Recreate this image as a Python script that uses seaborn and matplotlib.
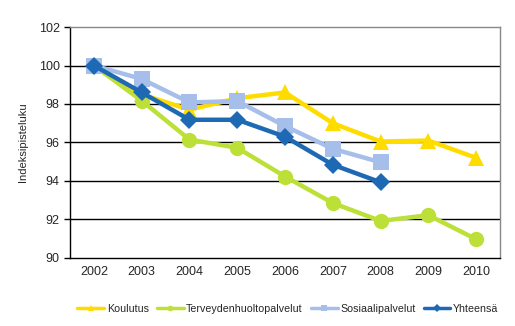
import numpy as np
import pandas as pd
import matplotlib
matplotlib.use("Agg")
import matplotlib.pyplot as plt
import seaborn as sns
from matplotlib.lines import Line2D

years = ["2002", "2003", "2004", "2005", "2006", "2007", "2008", "2009", "2010"]
koulutus = [100.0, 98.5, 97.7, 98.3, 98.6, 97.0, 96.05, 96.1, 95.2]
terveys = [100.0, 98.17, 96.15, 95.72, 94.23, 92.85, 91.92, 92.22, 90.97]
sosiaali = [100.0, 99.3, 98.08, 98.15, 96.85, 95.67, 94.97]
yhteensa = [100.0, 98.6, 97.18, 97.18, 96.3, 94.84, 93.93]

names = ["Koulutus", "Terveydenhuoltopalvelut", "Sosiaalipalvelut", "Yhteensä"]
series = [koulutus, terveys, sosiaali, yhteensa]
colors = ["#FFDC00", "#BDE038", "#A6BEEA", "#1E69B3"]
markers = ["^", "o", "s", "D"]
msizes = [11, 11, 11, 9]

rows = []
for n, vals in zip(names, series):
    for i, v in enumerate(vals):
        rows.append({"series": n, "pos": i, "value": v})
df = pd.DataFrame(rows)

sns.set_style("white")
plt.rcParams["font.family"] = ["Liberation Sans", "DejaVu Sans"]

fig = plt.figure(figsize=(5.15, 3.26), dpi=100)
ax = fig.add_axes([0.136, 0.209, 0.835, 0.708])

for n, c, m, ms in zip(names, colors, markers, msizes):
    sub = df[df["series"] == n]
    sns.lineplot(data=sub, x="pos", y="value", ax=ax, color=c, linewidth=3.2,
                 marker=m, markersize=ms, markeredgewidth=0, sort=False,
                 legend=False, zorder=3)

ax.set_xlim(-0.5, len(years) - 0.5)
ax.set_ylim(90, 102)
ax.set_yticks(np.arange(90, 103, 2))
ax.set_yticklabels([str(v) for v in range(90, 103, 2)], fontsize=9)
ax.set_xticks(range(len(years)))
ax.set_xticklabels(years, fontsize=9)
ax.set_xticks(np.arange(-0.5, len(years), 1), minor=True)
ax.tick_params(axis="x", which="major", length=0, pad=6)
ax.tick_params(axis="x", which="minor", length=4, direction="out", width=1, color="black")
ax.tick_params(axis="y", which="major", length=4, direction="out", width=1, color="black", left=True)
ax.set_xlabel("")
ax.set_ylabel("Indeksipisteluku", fontsize=8, labelpad=8)

for y in range(92, 102, 2):
    ax.axhline(y, color="black", linewidth=1.0, zorder=1)

for s in ["left", "bottom"]:
    ax.spines[s].set_color("black")
    ax.spines[s].set_linewidth(1.0)
for s in ["top", "right"]:
    ax.spines[s].set_color("#888888")
    ax.spines[s].set_linewidth(1.0)

handles = [Line2D([0], [0], color=c, linewidth=2.5, marker=m, markersize=4, markeredgewidth=0)
           for c, m in zip(colors, markers)]
fig.legend(handles, names, loc="center", bbox_to_anchor=(0.559, 0.052), ncol=4,
           frameon=False, fontsize=7.7, handlelength=2.5, handletextpad=0.25,
           columnspacing=0.75)

fig.savefig("out.png", dpi=100)
